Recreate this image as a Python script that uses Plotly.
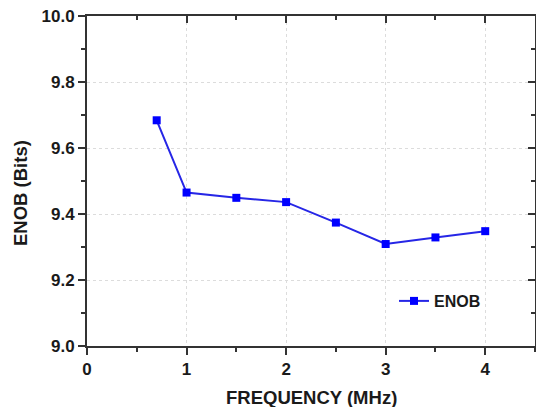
import plotly.graph_objects as go

freq_mhz = [0.7, 1.0, 1.5, 2.0, 2.5, 3.0, 3.5, 4.0]
enob_bits = [9.684, 9.465, 9.449, 9.436, 9.374, 9.309, 9.329, 9.348]
series_name = "ENOB"
x_title = "FREQUENCY (MHz)"
y_title = "ENOB (Bits)"

FONT = "Liberation Sans, Arial, sans-serif"
AX = "#333333"
TXT = "#1a1a1a"

fig = go.Figure()
fig.add_trace(go.Scatter(
    x=freq_mhz, y=enob_bits, mode="lines+markers", name=series_name,
    line=dict(color="#2626e6", width=2),
    marker=dict(symbol="square", size=8, color="#0000ff"),
))

common_grid = dict(showgrid=True, gridcolor="#dcdcdc", griddash="dot", gridwidth=1, zeroline=False)

fig.update_layout(
    width=536, height=407,
    margin=dict(l=87, r=1, t=16, b=61, autoexpand=False),
    paper_bgcolor="white", plot_bgcolor="white",
    font=dict(family=FONT, color=TXT),
    showlegend=True,
    legend=dict(x=(394 - 87) / 448, y=1 - (301 - 16) / 330, xanchor="left", yanchor="middle",
                bgcolor="rgba(0,0,0,0)", font=dict(size=16, family=FONT, color=TXT, weight="bold"),
                itemwidth=30),
    xaxis=dict(range=[0, 4.5], tick0=0, dtick=1, ticks="outside", ticklen=7, tickwidth=2,
               tickcolor=AX, showline=True, linecolor=AX, linewidth=2, automargin=False,
               tickfont=dict(size=17, family=FONT, color=TXT, weight="bold"),
               minor=dict(dtick=0.5, ticks="outside", ticklen=4, tickwidth=2, tickcolor=AX, showgrid=False),
               **common_grid),
    yaxis=dict(range=[9.0, 10.0], tick0=9.0, dtick=0.2, tickformat=".1f", ticks="outside", ticklen=7,
               tickwidth=2, tickcolor=AX, showline=True, linecolor=AX, linewidth=2, automargin=False,
               tickfont=dict(size=17, family=FONT, color=TXT, weight="bold"),
               minor=dict(dtick=0.1, ticks="outside", ticklen=4, tickwidth=2, tickcolor=AX, showgrid=False),
               **common_grid),
    xaxis2=dict(range=[0, 4.5], overlaying="x", side="top", tick0=0, dtick=1, ticks="inside", ticklen=7,
                tickwidth=2, tickcolor=AX, showline=True, linecolor=AX, linewidth=2, showticklabels=False,
                showgrid=False, zeroline=False, automargin=False,
                minor=dict(dtick=0.5, ticks="inside", ticklen=4, tickwidth=2, tickcolor=AX)),
    yaxis2=dict(range=[9.0, 10.0], overlaying="y", side="right", tick0=9.0, dtick=0.2, ticks="inside",
                ticklen=7, tickwidth=2, tickcolor=AX, showline=True, linecolor=AX, linewidth=2,
                showticklabels=False, showgrid=False, zeroline=False, automargin=False,
                minor=dict(dtick=0.1, ticks="inside", ticklen=4, tickwidth=2, tickcolor=AX)),
)

# mirror axes carrier (no visible marks)
fig.add_trace(go.Scatter(x=[None], y=[None], xaxis="x2", yaxis="y2", showlegend=False, hoverinfo="skip"))

fig.add_annotation(text=y_title, textangle=-90, xref="paper", yref="paper",
                   x=0, xanchor="center", xshift=20 - 87, y=1 - (193 - 16) / 330, yanchor="middle",
                   showarrow=False, font=dict(size=18.5, family=FONT, color=TXT, weight="bold"))
fig.add_annotation(text=x_title, xref="paper", yref="paper",
                   x=0.5, xanchor="center", y=-(397 - 346) / 330, yanchor="middle",
                   showarrow=False, font=dict(size=18.5, family=FONT, color=TXT, weight="bold"))

post = (
    "document.body.style.margin='0';document.body.style.overflow='hidden';"
    "var gd=document.getElementById('{plot_id}');"
    "Plotly.relayout(gd,{width:536,height:407});"
)
fig.write_html("out.html", post_script=post, config={"responsive": False, "displayModeBar": False})
